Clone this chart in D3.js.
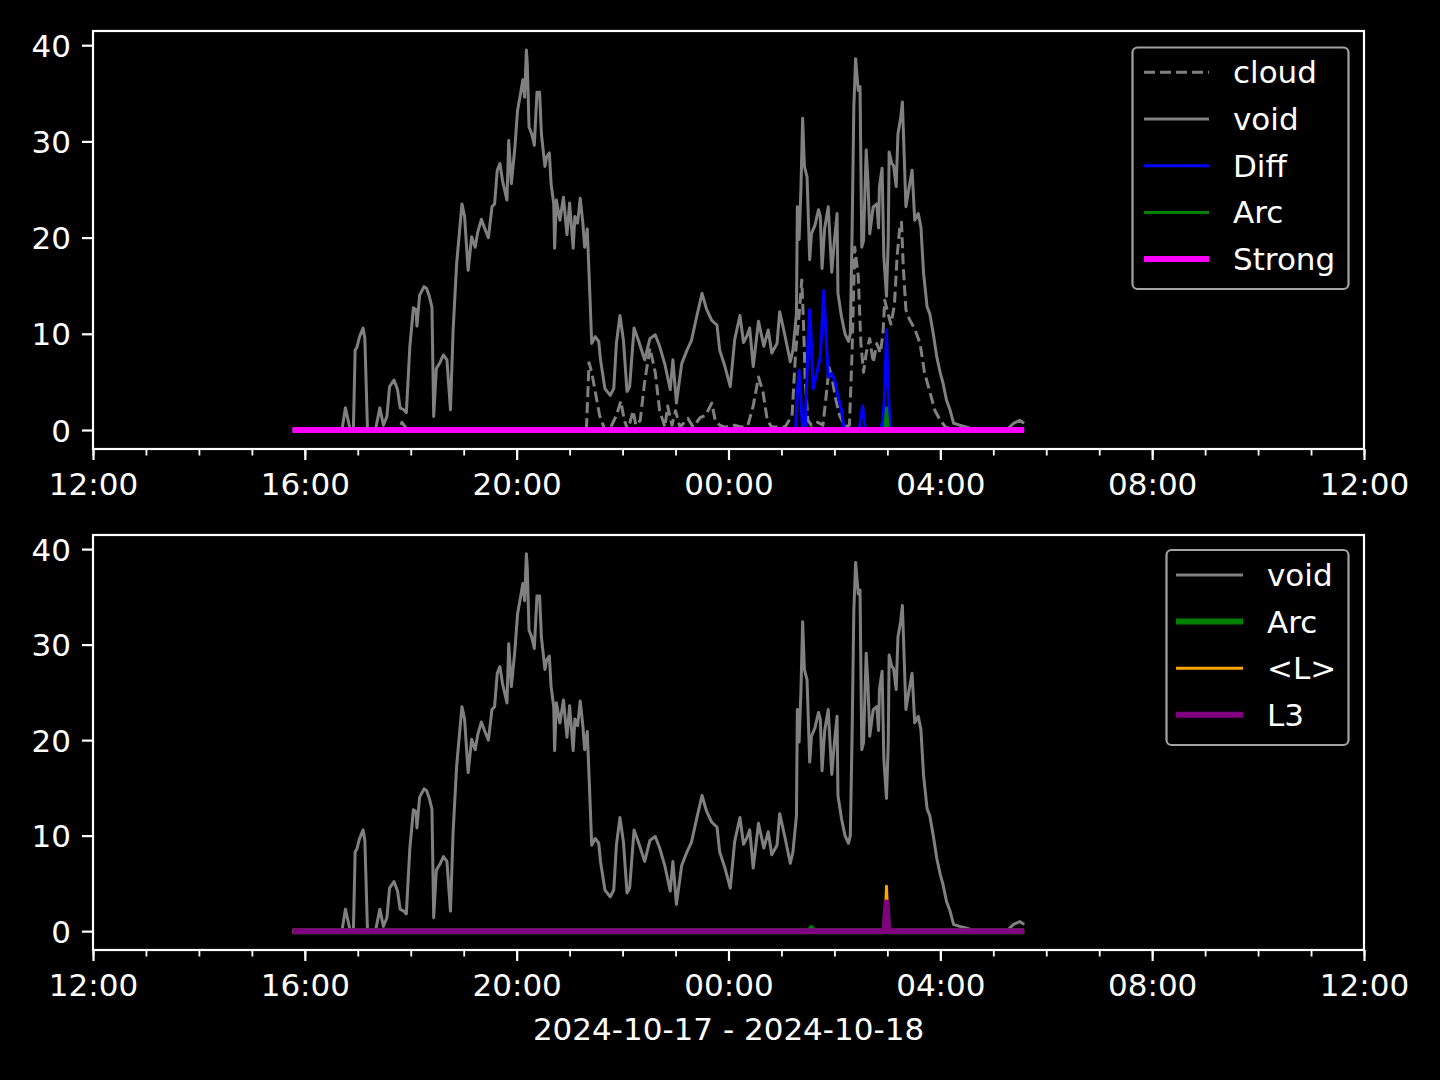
<!DOCTYPE html>
<html>
<head>
<meta charset="utf-8">
<script src="https://cdn.jsdelivr.net/npm/d3@7"></script>
<style>
html,body{margin:0;padding:0;background:#000;}
svg{display:block;}
text{font-family:"DejaVu Sans",sans-serif;fill:#fff;}
</style>
</head>
<body>
<svg id="chart" width="1440" height="1080"></svg>
<script>
// ---- data (times are local clock times, 2024-10-17 evening to 2024-10-18 morning) ----
const xDomain = ["2024-10-17T12:00", "2024-10-18T12:00"];
const xLabel = "2024-10-17 - 2024-10-18";
const yTicks = [0, 10, 20, 30, 40];

const voidSeries = [["15:46",0],["16:42",0],["16:46",2.3],["16:51",0.2],["16:55",0],["16:57",8.3],["16:59",8.6],["17:02",9.7],["17:06",10.6],["17:08",9.5],["17:11",0],["17:20",0],["17:25",2.3],["17:29",0.5],["17:33",1.4],["17:36",4.5],["17:41",5.2],["17:45",4.2],["17:48",2.3],["17:52",2.1],["17:55",1.8],["17:59",8.7],["18:03",12.7],["18:06",12.5],["18:07",10.8],["18:10",14.0],["18:15",14.9],["18:18",14.7],["18:21",13.9],["18:24",12.8],["18:26",1.4],["18:29",6.4],["18:33",7.0],["18:37",7.8],["18:41",7.3],["18:45",2.1],["18:48",10.4],["18:52",17.3],["18:58",23.5],["19:01",22.2],["19:05",16.6],["19:09",20.1],["19:13",19.0],["19:16",20.6],["19:20",21.9],["19:24",20.9],["19:28",20.0],["19:32",23.2],["19:35",23.5],["19:38",27.0],["19:41",27.7],["19:44",25.9],["19:49",23.9],["19:51",30.1],["19:54",25.6],["19:58",29.4],["20:01",33.2],["20:05",35.3],["20:07",36.4],["20:09",34.6],["20:11",39.5],["20:12",38.1],["20:14",31.5],["20:17",30.8],["20:20",29.6],["20:23",35.1],["20:26",35.1],["20:28",30.8],["20:32",27.4],["20:34",28.4],["20:37",28.8],["20:39",25.6],["20:42",23.5],["20:43",18.9],["20:45",23.9],["20:49",21.8],["20:53",24.2],["20:57",20.3],["21:00",23.6],["21:04",18.9],["21:06",22.2],["21:09",21.5],["21:12",24.1],["21:15",21.5],["21:17",19.0],["21:20",20.9],["21:23",13.9],["21:25",9.0],["21:29",9.7],["21:33",9.2],["21:35",7.3],["21:40",4.3],["21:46",3.6],["21:50",4.3],["21:53",9.0],["21:57",11.9],["22:01",9.3],["22:05",4.0],["22:08",4.5],["22:13",10.6],["22:18",9.3],["22:25",7.3],["22:31",9.5],["22:37",9.9],["22:42",8.7],["22:48",6.8],["22:54",4.2],["22:57",7.3],["23:01",2.8],["23:07",6.9],["23:13",8.3],["23:18",9.3],["23:24",11.8],["23:30",14.2],["23:35",12.6],["23:41",11.4],["23:47",10.9],["23:50",8.3],["23:56",6.6],["00:02",4.5],["00:07",9.4],["00:13",11.9],["00:17",9.1],["00:21",9.8],["00:24",10.6],["00:28",6.6],["00:34",11.3],["00:40",8.7],["00:45",10.4],["00:49",8.0],["00:55",9.0],["00:58",12.3],["01:04",9.8],["01:10",7.1],["01:13",8.3],["01:17",12.1],["01:18",23.2],["01:20",19.8],["01:22",24.9],["01:24",32.4],["01:26",27.4],["01:29",26.3],["01:32",17.7],["01:34",20.4],["01:38",21.3],["01:42",22.9],["01:44",22.2],["01:46",16.8],["01:49",21.0],["01:53",23.2],["01:57",16.4],["02:00",19.7],["02:03",22.5],["02:04",14.2],["02:08",11.8],["02:12",10.0],["02:16",9.2],["02:18",10.0],["02:20",20.4],["02:22",33.6],["02:24",38.6],["02:27",35.3],["02:29",35.7],["02:31",19.0],["02:33",19.7],["02:36",29.1],["02:38",25.9],["02:40",20.4],["02:44",23.2],["02:48",23.5],["02:50",21.0],["02:51",25.3],["02:54",27.2],["02:56",18.0],["02:59",13.9],["03:01",19.7],["03:02",28.9],["03:05",27.7],["03:07",27.5],["03:10",25.3],["03:12",30.8],["03:15",32.4],["03:17",34.1],["03:21",23.2],["03:24",24.9],["03:28",27.0],["03:31",21.8],["03:35",22.5],["03:38",21.1],["03:41",16.3],["03:45",12.8],["03:48",12.1],["03:52",10.0],["03:56",7.6],["04:00",5.9],["04:03",4.9],["04:07",3.1],["04:11",2.1],["04:15",0.7],["04:22",0.5],["04:30",0.3],["04:39",0],["05:15",0],["05:23",0.7],["05:30",1.0],["05:35",0.7]];

const cloudSeries = [["15:46",0],["17:47",0],["17:50",0.8],["17:54",0.3],["17:57",0],["21:19",0],["21:22",7],["21:25",6],["21:31",3],["21:34",1.5],["21:40",0],["21:45",0],["21:53",1.5],["21:58",3],["22:02",1],["22:06",0],["22:12",2],["22:15",0.5],["22:20",1],["22:25",5],["22:31",8.5],["22:37",6],["22:42",2],["22:48",0.3],["22:51",2.5],["22:56",0.5],["23:00",2],["23:05",0.3],["23:14",1.2],["23:20",0.3],["23:28",1.3],["23:34",1.5],["23:41",2.8],["23:45",1],["23:50",0.5],["23:56",0.3],["00:07",0.5],["00:15",0.3],["00:22",0.5],["00:28",2.5],["00:34",5.5],["00:39",4],["00:44",1],["00:49",0.3],["01:04",0.3],["01:12",1.5],["01:16",8],["01:20",12],["01:23",15.6],["01:25",11],["01:27",5],["01:30",1],["01:34",0.5],["01:41",0.8],["01:47",0.5],["01:50",3],["01:54",6.5],["01:57",5.5],["02:02",3],["02:06",1.5],["02:12",0.3],["02:17",0.5],["02:20",8],["02:23",19],["02:27",16],["02:30",9],["02:33",6],["02:36",8],["02:40",9.5],["02:44",7],["02:48",9],["02:52",8],["02:55",10],["02:57",13.5],["03:01",12],["03:04",11],["03:08",13],["03:11",18],["03:14",21],["03:16",21.6],["03:18",17],["03:21",12.5],["03:25",11.5],["03:31",10.5],["03:37",9],["03:42",6],["03:48",4],["03:54",2],["04:00",1],["04:06",0.3],["04:16",0],["05:35",0]];

const diffSeries = [["15:46",0],["01:16",0],["01:18",4],["01:20",6.2],["01:22",3],["01:24",0],["01:27",0],["01:30",9],["01:32",12.5],["01:33",11],["01:36",4.3],["01:40",5.9],["01:44",7.6],["01:48",14.5],["01:53",5.5],["01:57",5.9],["02:01",4.9],["02:04",3.5],["02:08",2.1],["02:11",0],["02:28",0],["02:32",2.5],["02:35",0],["02:52",0],["02:55",1],["02:57",3.8],["02:59",10.4],["03:01",4.3],["03:03",0],["05:35",0]];

const arcSeries = [["15:46",0],["01:32",0],["01:34",0.3],["01:36",0],["02:57",0],["02:59",2.3],["03:01",0],["05:35",0]];

const strongSeries = [["15:46",0],["05:35",0]];

const lMeanSeries = [["15:46",0],["02:57",0],["02:59",4.7],["03:01",0],["05:35",0]];

const l3Series = [["15:46",0],["02:57",0],["02:59",3.0],["03:01",0],["05:35",0]];

// ---- helpers ----
function parseT(s) {
  const [h, m] = s.split(":").map(Number);
  const day = h < 12 ? 18 : 17;
  return new Date(2024, 9, day, h, m);
}
const toPts = arr => arr.map(([t, v]) => ({t: parseT(t), v}));

const svg = d3.select("#chart");
const FS = 31;
const left = 93, right = 1364;
const x = d3.scaleTime()
  .domain(xDomain.map(s => new Date(s)))
  .range([left, right]);

const allVals = voidSeries.map(d => d[1]);
const yMax = d3.max(allVals), yMin = 0;
const pad = (yMax - yMin) * 0.05;

function panel(top, bottom, series, legendCfg) {
  const y = d3.scaleLinear().domain([yMin - pad, yMax + pad]).range([bottom, top]);
  const g = svg.append("g");
  const line = d3.line().x(d => x(d.t)).y(d => y(d.v)).curve(d3.curveLinear);

  series.forEach(s => {
    g.append("path")
      .attr("d", line(toPts(s.data)))
      .attr("fill", "none")
      .attr("stroke", s.color)
      .attr("stroke-width", s.width)
      .attr("stroke-linejoin", "round")
      .attr("stroke-dasharray", s.dash || null);
  });

  // spines
  g.append("rect").attr("x", left).attr("y", top)
    .attr("width", right - left).attr("height", bottom - top)
    .attr("fill", "none").attr("stroke", "#fff").attr("stroke-width", 2.2);

  // x minor ticks
  const xMinor = g.append("g").attr("transform", `translate(0,${bottom})`)
    .call(d3.axisBottom(x).ticks(d3.timeHour.every(1)).tickSize(6.5).tickFormat(""));
  xMinor.select(".domain").remove();
  xMinor.selectAll("line").attr("stroke", "#fff").attr("stroke-width", 1.8);

  // x major ticks
  const xAx = g.append("g").attr("transform", `translate(0,${bottom})`)
    .call(d3.axisBottom(x).ticks(d3.timeHour.every(4)).tickSize(11).tickFormat(d3.timeFormat("%H:%M")));
  xAx.select(".domain").remove();
  xAx.selectAll("line").attr("stroke", "#fff").attr("stroke-width", 2.2);
  xAx.selectAll("text").attr("y", 46).attr("dy", null)
    .attr("font-size", FS).attr("font-family", "DejaVu Sans").attr("fill", "#fff");

  // y axis
  const yAx = g.append("g").attr("transform", `translate(${left},0)`)
    .call(d3.axisLeft(y).tickValues(yTicks).tickSize(11).tickPadding(11).tickFormat(d3.format("d")));
  yAx.select(".domain").remove();
  yAx.selectAll("line").attr("stroke", "#fff").attr("stroke-width", 2.2);
  yAx.selectAll("text").attr("dy", "0.36em")
    .attr("font-size", FS).attr("font-family", "DejaVu Sans").attr("fill", "#fff");

  // legend
  const L = legendCfg;
  const lg = g.append("g");
  lg.append("rect").attr("x", L.x0).attr("y", L.y0)
    .attr("width", L.x1 - L.x0).attr("height", L.y1 - L.y0)
    .attr("rx", 5).attr("ry", 5)
    .attr("fill", "#000").attr("fill-opacity", 0.8)
    .attr("stroke", "#cccccc").attr("stroke-opacity", 0.8).attr("stroke-width", 2.2);
  series.forEach((s, i) => {
    const ry = L.firstRow + i * L.rowStep;
    lg.append("line").attr("x1", L.hx0).attr("x2", L.hx1).attr("y1", ry).attr("y2", ry)
      .attr("stroke", s.color).attr("stroke-width", s.width)
      .attr("stroke-dasharray", s.dash || null);
    lg.append("text").attr("x", L.tx).attr("y", ry + 11)
      .attr("font-size", FS).text(s.name);
  });
}

panel(31, 449, [
  {name: "cloud", data: cloudSeries, color: "#808080", width: 3, dash: "11,5"},
  {name: "void", data: voidSeries, color: "#808080", width: 3},
  {name: "Diff", data: diffSeries, color: "#0000ff", width: 3},
  {name: "Arc", data: arcSeries, color: "#008000", width: 3},
  {name: "Strong", data: strongSeries, color: "#ff00ff", width: 6}
], {x0: 1132.5, x1: 1348.5, y0: 47.5, y1: 289, hx0: 1144, hx1: 1209, tx: 1233, firstRow: 72.3, rowStep: 46.7});

panel(535, 950, [
  {name: "void", data: voidSeries, color: "#808080", width: 3},
  {name: "Arc", data: arcSeries, color: "#008000", width: 6},
  {name: "<L>", data: lMeanSeries, color: "#ffa500", width: 3},
  {name: "L3", data: l3Series, color: "#800080", width: 6}
], {x0: 1166.5, x1: 1348.5, y0: 550, y1: 745, hx0: 1176, hx1: 1243, tx: 1267, firstRow: 575, rowStep: 46.6});

svg.append("text").attr("x", (left + right) / 2).attr("y", 1040)
  .attr("text-anchor", "middle").attr("font-size", FS).text(xLabel);
</script>
</body>
</html>
